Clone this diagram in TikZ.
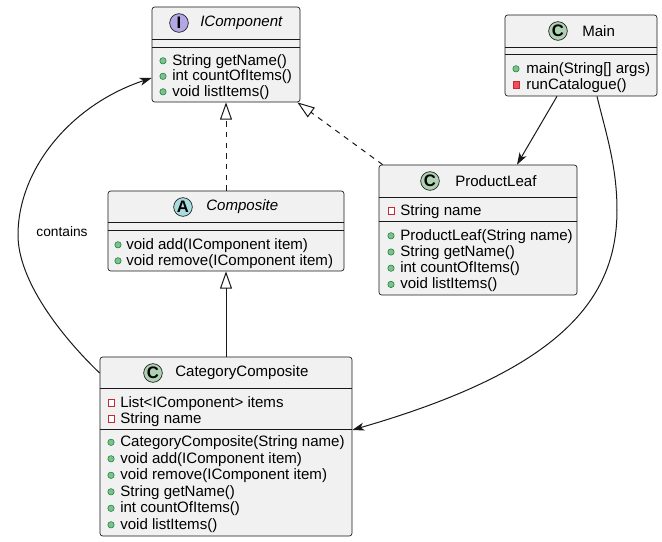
\documentclass[tikz,border=0pt]{standalone}
\usepackage{fontspec}
\setmainfont{Liberation Sans}
\usetikzlibrary{arrows.meta,fit}

\definecolor{boxfill}{HTML}{F1F1F1}
\definecolor{boxline}{HTML}{181818}
\definecolor{cbadge}{HTML}{ADD1B2}
\definecolor{ibadge}{HTML}{B4A7E5}
\definecolor{abadge}{HTML}{A9DCDF}
\definecolor{pubfill}{HTML}{84BE84}
\definecolor{publine}{HTML}{038048}
\definecolor{privline}{HTML}{C82930}
\definecolor{privfill}{HTML}{F24D5C}

\tikzset{
  classbox/.style={draw=boxline, fill=boxfill, line width=0.5pt, rounded corners=2pt, inner sep=0pt},
  sepline/.style={draw=boxline, line width=0.5pt},
  badge/.style={circle, draw=boxline, line width=0.5pt, minimum size=14pt, inner sep=0pt, font=\fontsize{12.5}{12.5}\selectfont\bfseries},
  classtitle/.style={anchor=west, inner sep=0pt, font=\fontsize{11.3}{13}\selectfont},
  memberrow/.style={anchor=west, inner sep=0pt, yshift=-0.9pt, font=\fontsize{11.3}{13}\selectfont},
  pub/.style={circle, draw=publine, fill=pubfill, line width=0.4pt, minimum size=4.8pt, inner sep=0pt, yshift=-0.6pt},
  privattr/.style={rectangle, draw=privline, fill=white, line width=0.5pt, minimum size=4.6pt, inner sep=0pt, yshift=-0.6pt},
  privop/.style={rectangle, draw=privline, fill=privfill, line width=0.5pt, minimum size=4.6pt, inner sep=0pt, yshift=-0.6pt},
  assoc/.style={draw=boxline, line width=0.75pt, -{Stealth[length=9pt,width=6pt,inset=2.5pt]}},
  realize/.style={draw=boxline, line width=0.75pt, dash pattern=on 4pt off 4pt, -{Triangle[open,length=13pt,width=9pt]}},
  generalize/.style={draw=boxline, line width=0.75pt, -{Triangle[open,length=13pt,width=9pt]}},
  lbl/.style={inner sep=0pt, font=\fontsize{10.3}{12}\selectfont}
}

\begin{document}
\begin{tikzpicture}[x=0.75pt,y=-0.75pt]
  \useasboundingbox (0,0) rectangle (662,542);

  % Interface IComponent
  \node[classbox, fit={(152,7) (300,102)}] (icomp) {};
  \draw[sepline] (152,39) -- (300,39);
  \draw[sepline] (152,47) -- (300,47);
  \node[badge, fill=ibadge] (icompB) at (179,23) {I};
  \node[classtitle] (icompT) at (200,23) {\itshape IComponent};
  \foreach \t [count=\i] in {String getName(), int countOfItems(), void listItems()} {
    \node[pub] (icompV\i) at (163,44.5+15.5*\i) {};
    \node[memberrow] (icompM\i) at (172,44.5+15.5*\i) {\t};
  }

  % Class Main
  \node[classbox, fit={(505,15) (657,96)}] (main) {};
  \draw[sepline] (505,47) -- (657,47);
  \draw[sepline] (505,54) -- (657,54);
  \node[badge, fill=cbadge] (mainB) at (558,31) {C};
  \node[classtitle] (mainT) at (582,31) {Main};
  \node[pub] (mainV1) at (516,68) {};
  \node[memberrow] (mainM1) at (526,68) {main(String[] args)};
  \node[privop] (mainV2) at (516,84) {};
  \node[memberrow] (mainM2) at (526,84) {runCatalogue()};

  % Abstract class Composite
  \node[classbox, fit={(108,191) (344,271)}] (comp) {};
  \draw[sepline] (108,222) -- (344,222);
  \draw[sepline] (108,230) -- (344,230);
  \node[badge, fill=abadge] (compB) at (183,207) {A};
  \node[classtitle] (compT) at (206,207) {\itshape Composite};
  \foreach \t [count=\i] in {void add(IComponent item), void remove(IComponent item)} {
    \node[pub] (compV\i) at (118,228+16*\i) {};
    \node[memberrow] (compM\i) at (126,228+16*\i) {\t};
  }

  % Class ProductLeaf
  \node[classbox, fit={(379,165) (577,295)}] (prodleaf) {};
  \draw[sepline] (379,197) -- (577,197);
  \draw[sepline] (379,221) -- (577,221);
  \node[badge, fill=cbadge] (prodleafB) at (430,181) {C};
  \node[classtitle] (prodleafT) at (455,181) {ProductLeaf};
  \node[privattr] (prodleafA1) at (391,210) {};
  \node[memberrow] (prodleafN1) at (400,210) {String name};
  \foreach \t [count=\i] in {ProductLeaf(String name), String getName(), int countOfItems(), void listItems()} {
    \node[pub] (prodleafV\i) at (391,218.8+16.2*\i) {};
    \node[memberrow] (prodleafM\i) at (400,218.8+16.2*\i) {\t};
  }

  % Class CategoryComposite
  \node[classbox, fit={(100,357) (352,536)}] (catcomp) {};
  \draw[sepline] (100,388) -- (352,388);
  \draw[sepline] (100,429) -- (352,429);
  \node[badge, fill=cbadge] (catcompB) at (153,373) {C};
  \node[classtitle] (catcompT) at (175,373) {CategoryComposite};
  \foreach \t [count=\i] in {List<IComponent> items, String name} {
    \node[privattr] (catcompA\i) at (111,386+16*\i) {};
    \node[memberrow] (catcompN\i) at (120,386+16*\i) {\t};
  }
  \foreach \t [count=\i] in {CategoryComposite(String name), void add(IComponent item), void remove(IComponent item), String getName(), int countOfItems(), void listItems()} {
    \node[pub] (catcompV\i) at (111,425+16.5*\i) {};
    \node[memberrow] (catcompM\i) at (120,425+16.5*\i) {\t};
  }

  % Inheritance and realization
  \draw[realize] (comp.north) -- (icomp.south);
  \draw[realize] ([xshift=3pt]prodleaf.north west) -- ([xshift=-2.25pt]icomp.south east);
  \draw[generalize] (catcomp.north) -- (comp.south);

  % Associations
  \draw[assoc] ([xshift=-18pt]main.south) -- ([xshift=29.25pt]prodleaf.north);
  \draw[assoc] ([xshift=12pt]main.south) .. controls (605,130) and (617,165) .. (617,210)
    .. controls (617,300) and (560,370) .. ([yshift=12.4pt]catcomp.east);
  \draw[assoc] ([yshift=55.1pt]catcomp.west) .. controls (60,335) and (18,280) .. (18,235)
    .. controls (18,170) and (70,105) .. ([yshift=-17.6pt]icomp.west);
  \node[lbl] (containsL) at (62,232) {contains};
\end{tikzpicture}
\end{document}
